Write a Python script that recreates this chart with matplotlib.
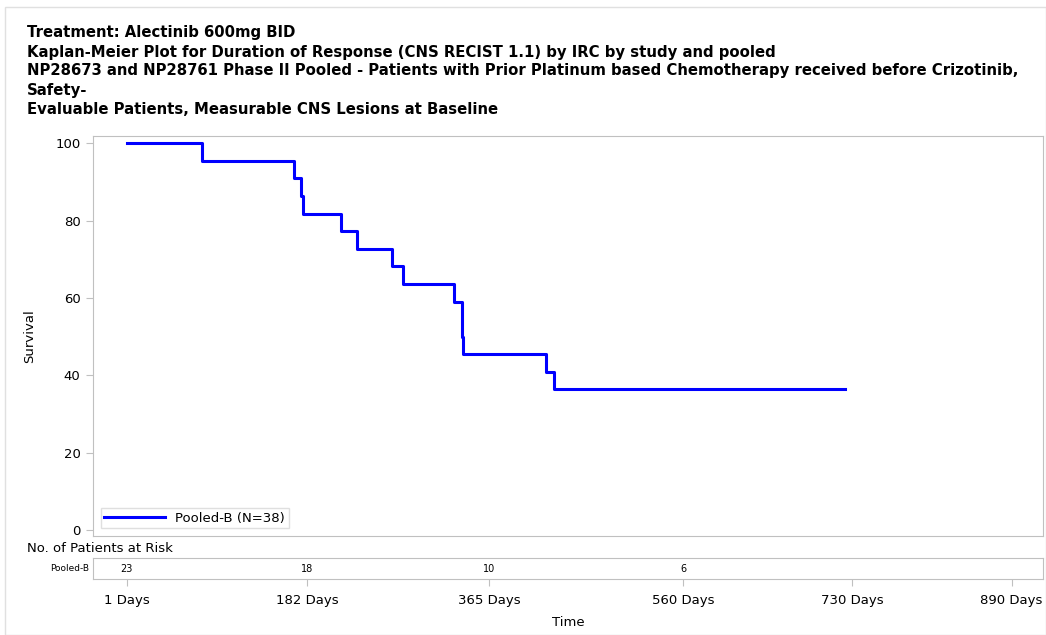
import numpy as np
import matplotlib
matplotlib.use('Agg')
import matplotlib.pyplot as plt
from matplotlib.patches import Rectangle

plt.rcParams['font.family'] = ['DejaVu Sans']

# KM step data (days, survival %)
days = [1, 77, 169, 176.5, 178, 215.7, 232, 267.6, 278.4, 329.6, 337.4, 339, 421.8, 430, 722.6]
surv = [100, 95.45, 90.91, 86.36, 81.82, 77.27, 72.73, 68.18, 63.64, 59.09, 50.0, 45.45, 40.91, 36.36, 36.36]

tick_days = [1, 182, 365, 560, 730, 890]
tick_labels = ["1 Days", "182 Days", "365 Days", "560 Days", "730 Days", "890 Days"]
risk_days = [1, 182, 365, 560]
risk_n = [23, 18, 10, 6]

titles = ["Treatment: Alectinib 600mg BID",
          "Kaplan-Meier Plot for Duration of Response (CNS RECIST 1.1) by IRC by study and pooled",
          "NP28673 and NP28761 Phase II Pooled - Patients with Prior Platinum based Chemotherapy received before Crizotinib,",
          "Safety-",
          "Evaluable Patients, Measurable CNS Lesions at Baseline"]

W, H = 1046, 635
fig = plt.figure(figsize=(W / 100, H / 100), dpi=100)
fig.patches.append(Rectangle((5 / W, 0), 1 - 5 / W, 1 - 7 / H, transform=fig.transFigure,
                             fill=False, edgecolor='#e0e0e0', lw=1))

grey = '#c0c0c0'
xl = (-33, 921.6)

ax = fig.add_axes([93 / W, 1 - 536 / H, 950 / W, 400 / H])
ax.step(days, surv, where='post', color='#0000ff', lw=2.2, label='Pooled-B (N=38)')
ax.set_xlim(*xl)
ax.set_ylim(-1.55, 101.9)
ax.set_yticks([0, 20, 40, 60, 80, 100])
ax.set_xticks([])
ax.set_ylabel("Survival", fontsize=9.5, labelpad=14)
ax.tick_params(axis='y', labelsize=9.5, color=grey, length=5, pad=4)
for s in ax.spines.values():
    s.set_color(grey)
leg = ax.legend(loc='lower left', bbox_to_anchor=(0.0, 0.0), fontsize=9.5, frameon=True,
                fancybox=False, handlelength=4.6, borderaxespad=0.6, borderpad=0.25)
leg.get_frame().set_edgecolor('#d8d8d8')

# risk table
rx = fig.add_axes([93 / W, 1 - 579 / H, 950 / W, 21 / H])
rx.set_xlim(*xl)
rx.set_ylim(0, 1)
rx.set_yticks([])
for d, n in zip(risk_days, risk_n):
    rx.text(d, 0.5, str(n), ha='center', va='center', fontsize=7)
rx.text(-0.004, 0.5, "Pooled-B", transform=rx.transAxes, ha='right', va='center', fontsize=6.5)
rx.set_xticks(tick_days)
rx.set_xticklabels(tick_labels, fontsize=9.5)
rx.tick_params(axis='x', color=grey, length=5, pad=6)
for s in rx.spines.values():
    s.set_color(grey)

fig.text(568 / W, 1 - 623 / H, "Time", fontsize=9.5, va='center', ha='center')
fig.text(27 / W, 1 - 549 / H, "No. of Patients at Risk", fontsize=9.5, va='center', ha='left')

ys = [33, 52, 71, 90, 109]
for t, y in zip(titles, ys):
    fig.text(27 / W, 1 - y / H, t, fontsize=10.75, fontweight='bold', va='center', ha='left')

fig.savefig("out.png", dpi=100)
